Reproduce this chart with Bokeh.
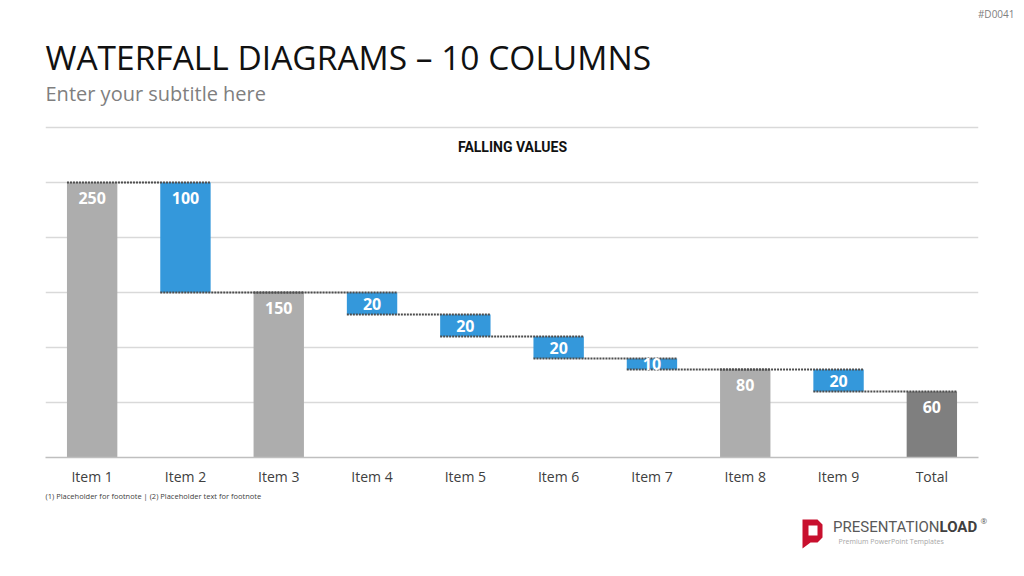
from bokeh.plotting import figure
from bokeh.models import Label, FixedTicker, ColumnDataSource, FactorRange, Range1d
from bokeh.layouts import column
from bokeh.transform import dodge
from bokeh.core.properties import value
from bokeh.embed import file_html
from bokeh.resources import INLINE

# ---- data ----
items = ["Item 1", "Item 2", "Item 3", "Item 4", "Item 5", "Item 6", "Item 7", "Item 8", "Item 9", "Total"]
values = [250, -100, 150, -20, -20, -20, -10, 80, -20, 60]
kinds = ["total", "delta", "total", "delta", "delta", "delta", "delta", "total", "delta", "final"]
grid_ticks = [0, 50, 100, 150, 200, 250, 300]

colors = {"total": "#ADADAD", "delta": "#3498DB", "final": "#7F7F7F"}
COND = "Roboto"

bottoms, tops, ends = [], [], []
running = 0
for v, k in zip(values, kinds):
    if k == "delta":
        top = running
        bot = running + v
        running = bot
    else:
        bot = 0
        top = v
        running = v
    bottoms.append(bot)
    tops.append(top)
    ends.append(running)

src = ColumnDataSource(dict(
    item=items, top=tops, bottom=bottoms,
    color=[colors[k] for k in kinds],
    label=[str(abs(v)) for v in values],
    ly=[max(t - 14.5, (t + b) / 2) for t, b in zip(tops, bottoms)],
))
con = ColumnDataSource(dict(a=items[:-1], b=items[1:], y=ends[:-1]))

W = 1024
HEAD_H = 120          # page rows 0..120
FRAME_BOTTOM = 457    # page row of value 0
MAIN_END = 488
PX_PER_UNIT = 1.1

def plain(fig):
    fig.outline_line_color = None
    fig.axis.visible = False
    fig.grid.visible = False
    fig.background_fill_color = "white"
    fig.border_fill_color = "white"
    if hasattr(fig, "frame_align"):
        fig.frame_align = False
    return fig

# ---- header ----
head = plain(figure(width=W, height=HEAD_H, x_range=Range1d(0, W), y_range=Range1d(HEAD_H, 0),
                    output_backend="svg", toolbar_location=None, min_border=0))

def htext(fig, x, y, t, size, color, font="Open Sans", style="normal", align="left"):
    fig.text(x=[x], y=[y], text=[t], text_font=value(font), text_font_size=size,
             text_color=color, text_font_style=style, text_align=align, text_baseline="middle")

htext(head, 1014, 13, "#D0041", "10px", "#808080", align="right")
htext(head, 45, 56, "WATERFALL DIAGRAMS \u2013 10 COLUMNS", "33.5px", "#111111")
htext(head, 45, 93, "Enter your subtitle here", "20px", "#7F7F7F")

# ---- main chart ----
y_top = (FRAME_BOTTOM - HEAD_H) / PX_PER_UNIT
p = figure(width=W, height=MAIN_END - HEAD_H, x_range=FactorRange(*items), y_range=Range1d(0, y_top),
           output_backend="svg", toolbar_location=None,
           min_border_left=45, min_border_right=46, min_border_top=0,
           min_border_bottom=MAIN_END - FRAME_BOTTOM)
p.outline_line_color = None
p.background_fill_color = "white"
p.border_fill_color = "white"
p.yaxis.visible = False
p.xgrid.grid_line_color = None
p.ygrid.ticker = FixedTicker(ticks=grid_ticks)
p.ygrid.grid_line_color = "#D9D9D9"
p.ygrid.grid_line_width = 1.5
p.xaxis.axis_line_color = "#BFBFBF"
p.xaxis.axis_line_width = 1.5
p.xaxis.major_tick_line_color = None
p.xaxis.minor_tick_line_color = None
p.xaxis.major_label_standoff = 3
p.xaxis.major_label_text_font = "Open Sans"
p.xaxis.major_label_text_font_size = "14px"
p.xaxis.major_label_text_color = "#404040"
if hasattr(p, "frame_align"):
    p.frame_align = False

p.vbar(x="item", top="top", bottom="bottom", width=0.54, color="color", source=src, line_color=None)
p.segment(x0=dodge("a", -0.27, range=p.x_range), x1=dodge("b", 0.27, range=p.x_range),
          y0="y", y1="y", source=con, line_color="#4D4D4D", line_width=2, line_dash="2 1")
p.text(x="item", y="ly", text="label", source=src, text_color="white",
       text_font=value("Open Sans"), text_font_style="bold", text_font_size="16px",
       text_align="center", text_baseline="middle")
p.add_layout(Label(x=512 - 45, y=FRAME_BOTTOM - 146, x_units="screen", y_units="screen",
                   text="FALLING VALUES", text_font=COND, text_font_style="bold",
                   text_font_size="14px", text_color="#111111", text_align="center",
                   text_baseline="middle"))

# ---- footer ----
FOOT_H = 576 - MAIN_END
foot = plain(figure(width=W, height=FOOT_H, x_range=Range1d(0, W), y_range=Range1d(576, MAIN_END),
                    output_backend="svg", toolbar_location=None, min_border=0))
htext(foot, 45, 495, "(1) Placeholder for footnote | (2) Placeholder text for footnote", "7.5px", "#404040")
logo_x = [802, 817, 822, 822, 817, 810, 802]
logo_y = [519, 519, 524, 537, 542, 542, 548]
foot.patch(logo_x, logo_y, color="#C8102E", line_color=None)
foot.quad(left=[808], right=[817], top=[525], bottom=[535], color="white", line_color=None)
htext(foot, 939, 526, "PRESENTATION", "15px", "#595959", font=COND, align="right")
htext(foot, 939, 526, "LOAD", "15px", "#404040", font=COND, style="bold")
htext(foot, 980, 520, "\u00AE", "8px", "#595959")
htext(foot, 838, 541, "Premium PowerPoint Templates", "7px", "#A6A6A6")

layout = column(head, p, foot, spacing=0)
open("out.html", "w").write(file_html(layout, INLINE))
